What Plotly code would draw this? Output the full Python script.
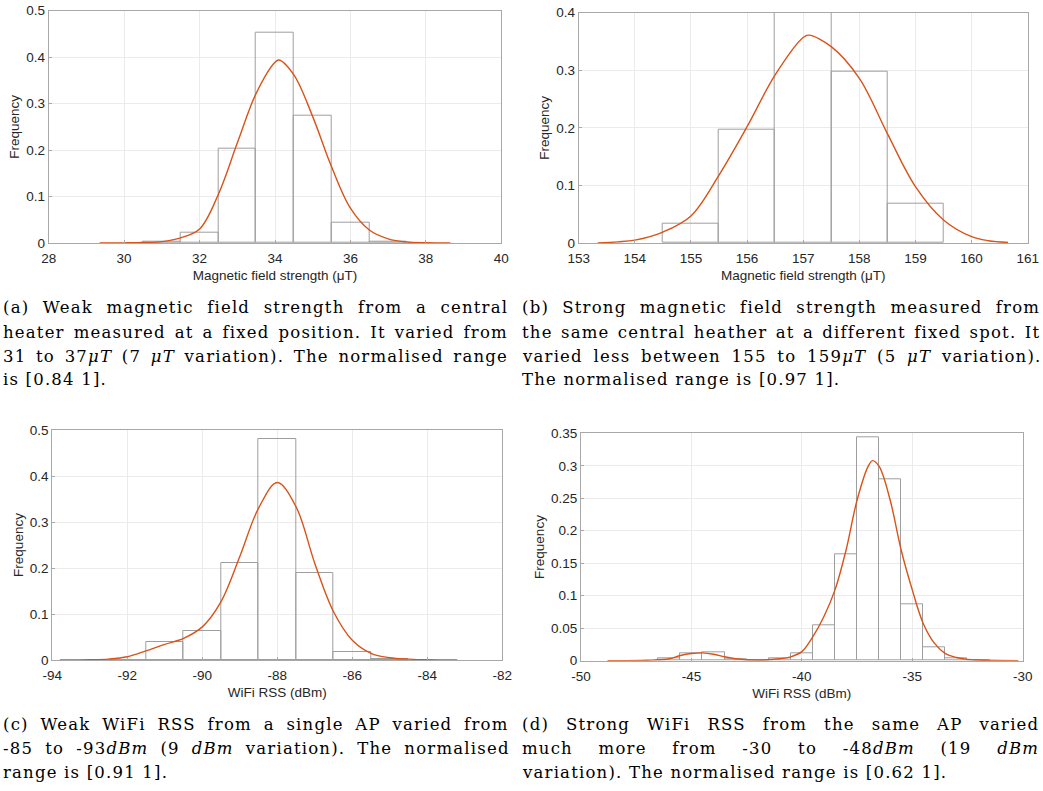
import plotly.graph_objects as go

W, H = 1043, 791

# ---------------- data ----------------
# (a) weak magnetic field
a_bin_centers = [31, 32, 33, 34, 35, 36, 37]
a_freq = [0.002, 0.022, 0.204, 0.452, 0.275, 0.043, 0.003]
a_curve_x = [29.35, 30.0, 30.5, 31.0, 31.5, 32.0, 32.5, 33.0, 33.5, 34.0, 34.1, 34.5,
             35.0, 35.5, 36.0, 36.5, 37.0, 37.5, 38.0, 38.65]
a_curve_y = [0.0, 0.0003, 0.001, 0.003, 0.011, 0.030, 0.105, 0.215, 0.322, 0.389, 0.394, 0.362,
             0.272, 0.164, 0.075, 0.028, 0.009, 0.002, 0.0005, 0.0]

# (b) strong magnetic field
b_bin_centers = [155, 156, 157, 158, 159]
b_freq = [0.034, 0.197, 0.400, 0.298, 0.069]
b_curve_x = [153.34, 153.7, 154.0, 154.5, 155.0, 155.5, 156.0, 156.5, 157.0, 157.1, 157.5,
             158.0, 158.5, 159.0, 159.5, 160.0, 160.3, 160.65]
b_curve_y = [0.0, 0.002, 0.005, 0.019, 0.047, 0.118, 0.202, 0.292, 0.357, 0.361, 0.341,
             0.286, 0.190, 0.098, 0.040, 0.011, 0.004, 0.001]

# (c) weak WiFi RSS
c_bin_centers = [-92, -91, -90, -89, -88, -87, -86, -85]
c_freq = [0.001, 0.040, 0.062, 0.210, 0.480, 0.190, 0.017, 0.002]
c_curve_x = [-93.8, -93.0, -92.5, -92.0, -91.5, -91.0, -90.5, -90.0, -89.5, -89.0, -88.5,
             -88.0, -87.5, -87.0, -86.5, -86.0, -85.5, -85.0, -84.5, -84.0, -83.2]
c_curve_y = [0.0, 0.0005, 0.002, 0.007, 0.020, 0.034, 0.047, 0.072, 0.127, 0.225, 0.330,
             0.386, 0.333, 0.210, 0.105, 0.043, 0.0145, 0.005, 0.002, 0.0005, 0.0]

# (d) strong WiFi RSS
d_bin_centers = [-46, -45, -44, -43, -42, -41, -40, -39, -38, -37, -36, -35, -34, -33, -32]
d_freq = [0.004, 0.011, 0.013, 0.002, 0.001, 0.004, 0.011, 0.054, 0.164, 0.344, 0.279,
          0.087, 0.020, 0.004, 0.001]
d_curve_x = [-48.8, -47.0, -46.0, -45.5, -45.0, -44.5, -44.0, -43.5, -43.0, -42.0, -41.0,
             -40.5, -40.0, -39.5, -39.0, -38.5, -38.0, -37.5, -37.0, -36.8, -36.5, -36.0,
             -35.5, -35.0, -34.5, -34.0, -33.5, -33.0, -32.5, -32.0, -30.2]
d_curve_y = [0.0, 0.0007, 0.003, 0.008, 0.011, 0.012, 0.010, 0.006, 0.003, 0.001, 0.003,
             0.006, 0.014, 0.037, 0.068, 0.109, 0.170, 0.247, 0.299, 0.308, 0.299, 0.247,
             0.170, 0.109, 0.057, 0.027, 0.011, 0.005, 0.002, 0.001, 0.0]

# tick values / labels
a_xticks = [28, 30, 32, 34, 36, 38, 40]
b_xticks = [153, 154, 155, 156, 157, 158, 159, 160, 161]
c_xticks = [-94, -92, -90, -88, -86, -84, -82]
d_xticks = [-50, -45, -40, -35, -30]
a_yticks = [0, 0.1, 0.2, 0.3, 0.4, 0.5]
b_yticks = [0, 0.1, 0.2, 0.3, 0.4]
c_yticks = [0, 0.1, 0.2, 0.3, 0.4, 0.5]
d_yticks = [0, 0.05, 0.1, 0.15, 0.2, 0.25, 0.3, 0.35]

x_titles = ["Magnetic field strength (μT)", "Magnetic field strength (μT)",
            "WiFi RSS (dBm)", "WiFi RSS (dBm)"]
x_ranges = [[28, 40], [153, 161], [-94, -82], [-50, -30]]
y_ranges = [[0, 0.5], [0, 0.4], [0, 0.5], [0, 0.35]]

captions = [
    ["(a) Weak magnetic field strength from a central",
     "heater measured at a fixed position. It varied from",
     "31 to 37<i>μT</i> (7 <i>μT</i> variation). The normalised range",
     "is [0.84 1]."],
    ["(b) Strong magnetic field strength measured from",
     "the same central heather at a different fixed spot. It",
     "varied less between 155 to 159<i>μT</i> (5 <i>μT</i> variation).",
     "The normalised range is [0.97 1]."],
    ["(c) Weak WiFi RSS from a single AP varied from",
     "-85 to -93<i>dBm</i> (9 <i>dBm</i> variation). The normalised",
     "range is [0.91 1]."],
    ["(d) Strong WiFi RSS from the same AP varied",
     "much more from -30 to -48<i>dBm</i> (19 <i>dBm</i>",
     "variation). The normalised range is [0.62 1]."],
]
# word spacing (px) per caption line for justification (last lines not justified)
caption_wordspacing = [[7.1, 2.5, 3.2, 0], [6.8, 1.9, 4.3, 0], [5.3, 5.6, 0], [10.5, 19.2, 0]]

# ---------------- layout (pixel boxes) ----------------
boxes = [  # left, right, top, bottom in px
    (48.7, 501.3, 10.7, 243.0),
    (578.7, 1027.7, 12.7, 243.0),
    (52.3, 502.3, 430.0, 660.0),
    (581.0, 1022.7, 433.3, 660.7),
]
cap_x = [2, 521, 2, 521]
cap_y0 = [308, 308, 724, 724]
line_gap = 24

ORANGE = "#D95319"
EDGE = "#9e9e9e"
AXC = "#a8a8a8"
GRID = "#ebebeb"
TXT = "#262626"

fig = go.Figure()
data = [
    (a_bin_centers, a_freq, a_curve_x, a_curve_y),
    (b_bin_centers, b_freq, b_curve_x, b_curve_y),
    (c_bin_centers, c_freq, c_curve_x, c_curve_y),
    (d_bin_centers, d_freq, d_curve_x, d_curve_y),
]
xticks = [a_xticks, b_xticks, c_xticks, d_xticks]
yticks = [a_yticks, b_yticks, c_yticks, d_yticks]

for i, (bc, fr, cx, cy) in enumerate(data):
    n = "" if i == 0 else str(i + 1)
    fig.add_trace(go.Bar(x=bc, y=fr, width=1,
                         marker=dict(color="rgba(0,0,0,0)", line=dict(color=EDGE, width=1)),
                         xaxis="x" + n, yaxis="y" + n, showlegend=False, hoverinfo="skip"))
    fig.add_trace(go.Scatter(x=cx, y=cy, mode="lines",
                             line=dict(color=ORANGE, width=1.4, shape="spline", smoothing=1.0),
                             xaxis="x" + n, yaxis="y" + n, showlegend=False))

layout = dict(width=W, height=H, margin=dict(l=0, r=0, t=0, b=0, autoexpand=False),
              paper_bgcolor="white", plot_bgcolor="white",
              font=dict(family="Liberation Sans, Arial, sans-serif", color=TXT, size=13),
              bargap=0)

def fmt(v):
    return ("%g" % v)

for i in range(4):
    n = "" if i == 0 else str(i + 1)
    l, r, t, b = boxes[i]
    layout["xaxis" + n] = dict(
        domain=[l / W, r / W], range=x_ranges[i],
        tickmode="array", tickvals=xticks[i], ticktext=[fmt(v) for v in xticks[i]],
        anchor="y" + n, showgrid=True, gridcolor=GRID, gridwidth=1,
        showline=True, linecolor=AXC, linewidth=1, mirror=True,
        ticks="inside", ticklen=3, tickcolor=AXC, zeroline=False, automargin=False,
        ticklabelstandoff=3,
        tickfont=dict(size=13.5, color=TXT),
        title=dict(text=x_titles[i], font=dict(size=13.5, color=TXT), standoff=5),
    )
    layout["yaxis" + n] = dict(
        domain=[1 - b / H, 1 - t / H], range=y_ranges[i],
        tickmode="array", tickvals=yticks[i], ticktext=[fmt(v) for v in yticks[i]],
        anchor="x" + n, showgrid=True, gridcolor=GRID, gridwidth=1,
        showline=True, linecolor=AXC, linewidth=1, mirror=True,
        ticks="inside", ticklen=3, tickcolor=AXC, zeroline=False, automargin=False,
        tickfont=dict(size=13.5, color=TXT),
        title=dict(text="Frequency", font=dict(size=13.5, color=TXT), standoff=3),
    )

annotations = []
for i, lines in enumerate(captions):
    for j, txt in enumerate(lines):
        ws = caption_wordspacing[i][j]
        annotations.append(dict(
            text=f'<span style="word-spacing:{ws}px;letter-spacing:1.2px">{txt}</span>',
            x=cap_x[i] / W, y=1 - (cap_y0[i] + j * line_gap) / H,
            xref="paper", yref="paper", xanchor="left", yanchor="middle",
            showarrow=False, align="left", borderpad=0,
            font=dict(family="DejaVu Serif, serif", size=16.5, color="black"),
        ))
layout["annotations"] = annotations

fig.update_layout(**layout)
fig.write_html("out.html")
